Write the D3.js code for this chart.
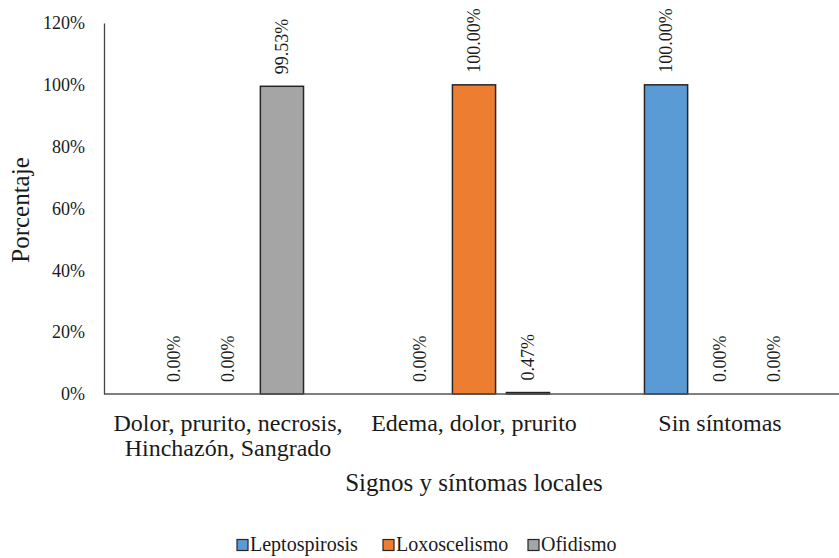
<!DOCTYPE html>
<html>
<head>
<meta charset="utf-8">
<script src="https://cdn.jsdelivr.net/npm/d3@7"></script>
<style>
  html, body { margin: 0; padding: 0; background: #fff; }
  text { font-family: "Liberation Serif", "Times New Roman", serif; fill: #1a1a1a; }
</style>
</head>
<body>
<svg id="chart" width="839" height="558"></svg>
<script>
// Local signs and symptoms by condition (percent of cases)
const categories = [
  ["Dolor, prurito, necrosis,", "Hinchazón, Sangrado"],
  ["Edema, dolor, prurito"],
  ["Sin síntomas"]
];
const seriesNames = ["Leptospirosis", "Loxoscelismo", "Ofidismo"];
const leptospirosis = [0.00, 0.00, 100.00];
const loxoscelismo  = [0.00, 100.00, 0.00];
const ofidismo      = [99.53, 0.47, 0.00];
const seriesColors  = ["#5B9BD5", "#ED7D31", "#A5A5A5"];
const yTicks = [0, 20, 40, 60, 80, 100, 120];

const seriesValues = [leptospirosis, loxoscelismo, ofidismo];
const catKeys = categories.map((c, i) => "c" + i);

const svg = d3.select("#chart");
const plotLeft = 104, plotRight = 843, plotTop = 23, plotBottom = 394;

const y = d3.scaleLinear().domain([0, 120]).range([plotBottom, plotTop]);
const x0 = d3.scaleBand().domain(catKeys).range([plotLeft + 1, plotRight]);
const x1 = d3.scaleBand().domain(seriesNames).range([0, x0.bandwidth()])
  .paddingInner(0.2).paddingOuter(0.88);

// y axis labels
const yAxis = d3.axisLeft(y).tickValues(yTicks).tickSize(0).tickPadding(19)
  .tickFormat(d => d + "%");
const gy = svg.append("g").attr("transform", `translate(${plotLeft},0)`).call(yAxis);
gy.select(".domain").attr("stroke", "#444").attr("stroke-width", 1.3);
gy.selectAll("text").style("font-size", "18px").style("font-family", "Liberation Serif").attr("fill", "#1a1a1a");

const cellData = (d, ci) => seriesNames.map((s, si) => ({ s, si, v: seriesValues[si][ci] }));

// bars
const groups = svg.append("g").selectAll("g")
  .data(catKeys).join("g")
  .attr("transform", d => `translate(${x0(d)},0)`);

groups.selectAll("rect")
  .data((d, ci) => cellData(d, ci).filter(c => c.v > 0))
  .join("rect")
  .attr("x", d => x1(d.s))
  .attr("width", x1.bandwidth())
  .attr("y", d => y(d.v))
  .attr("height", d => y(0) - y(d.v))
  .attr("fill", d => seriesColors[d.si])
  .attr("stroke", "#262626")
  .attr("stroke-width", 1.5);

// value labels, rotated
groups.selectAll("text.val")
  .data(cellData)
  .join("text")
  .attr("class", "val")
  .attr("transform", d => `translate(${x1(d.s) + x1.bandwidth() / 2},${y(d.v) - 12}) rotate(-90)`)
  .attr("dominant-baseline", "central")
  .attr("text-anchor", "start")
  .style("font-size", "18px")
  .text(d => d.v.toFixed(2) + "%");

// x axis line
svg.append("line")
  .attr("x1", plotLeft).attr("x2", 839)
  .attr("y1", y(0)).attr("y2", y(0))
  .attr("stroke", "#555").attr("stroke-width", 1.3);

// category labels
const cl = svg.append("g").selectAll("text")
  .data(catKeys).join("text")
  .attr("x", d => x0(d) + x0.bandwidth() / 2)
  .attr("y", 431)
  .attr("text-anchor", "middle")
  .style("font-size", "24px");
cl.selectAll("tspan")
  .data((d, i) => categories[i])
  .join("tspan")
  .attr("x", function () { return d3.select(this.parentNode).attr("x"); })
  .attr("dy", (d, i) => i === 0 ? 0 : 25)
  .text(d => d);

// axis titles
svg.append("text")
  .attr("x", 474).attr("y", 491)
  .attr("text-anchor", "middle")
  .style("font-size", "25px")
  .text("Signos y síntomas locales");

svg.append("text")
  .attr("transform", "translate(29,210) rotate(-90)")
  .attr("text-anchor", "middle")
  .style("font-size", "25px")
  .text("Porcentaje");

// legend
const legendX = [237, 383, 528];
const lg = svg.append("g").selectAll("g")
  .data(seriesNames).join("g")
  .attr("transform", (d, i) => `translate(${legendX[i]},545)`);
lg.append("rect")
  .attr("x", 0).attr("y", -5.5).attr("width", 11).attr("height", 11)
  .attr("fill", (d, i) => seriesColors[i])
  .attr("stroke", "#262626").attr("stroke-width", 1.2);
lg.append("text")
  .attr("x", 13).attr("y", 6)
  .style("font-size", "20px")
  .text(d => d);
</script>
</body>
</html>
